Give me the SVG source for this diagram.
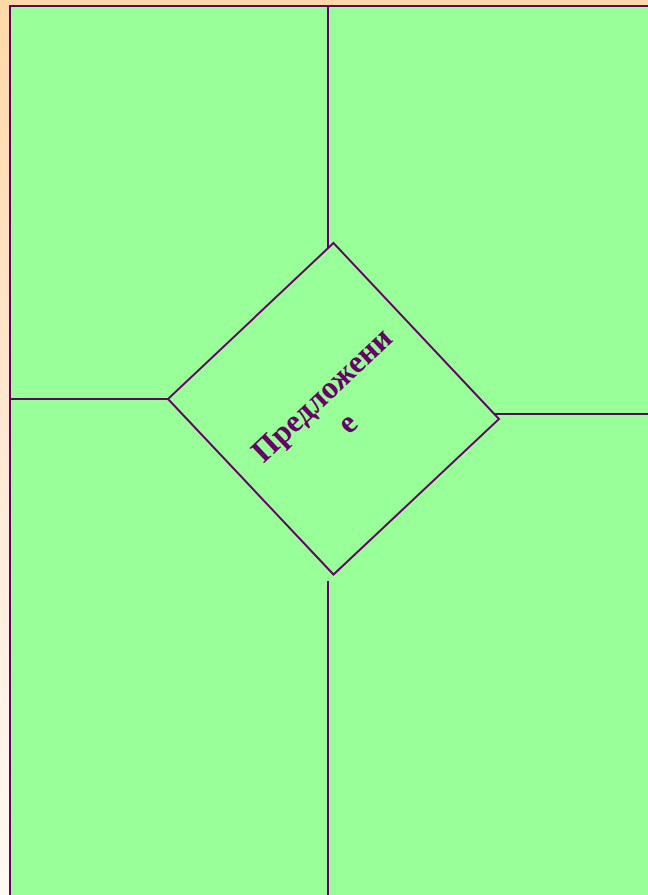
<svg xmlns="http://www.w3.org/2000/svg" width="648" height="895" viewBox="0 0 648 895">
  <defs>
    <linearGradient id="bg" x1="0" y1="0" x2="0" y2="1">
      <stop offset="0" stop-color="#FFD8A8"/>
      <stop offset="0.5" stop-color="#FFE9D4"/>
      <stop offset="1" stop-color="#FFF9F4"/>
    </linearGradient>
    <style>
      .ln { stroke: #660066; stroke-width: 2; fill: none; }
      .lbl { font-family: "Liberation Serif", "Times New Roman", serif; font-weight: bold; font-size: 32px; fill: #660066; text-anchor: middle; }
    </style>
  </defs>
  <rect x="0" y="0" width="648" height="895" fill="url(#bg)"/>
  <g id="panel">
    <rect x="10" y="6" width="650" height="900" fill="#99FF99" stroke="#660066" stroke-width="2"/>
  </g>
  <g id="connectors">
    <line class="ln" x1="328" y1="6" x2="328" y2="248"/>
    <line class="ln" x1="10" y1="399" x2="176" y2="399"/>
    <line class="ln" x1="494" y1="414" x2="648" y2="414"/>
    <line class="ln" x1="328" y1="581" x2="328" y2="895"/>
  </g>
  <g id="proposal">
    <polygon points="333.5,243 499,419 333.5,574.5 168,399" fill="#99FF99" stroke="#660066" stroke-width="2"/>
    <g transform="translate(333.5,408.5) rotate(-43.4)">
      <text class="lbl" x="1" y="-8">Предложени</text>
      <text class="lbl" x="0" y="30">е</text>
    </g>
  </g>
</svg>
